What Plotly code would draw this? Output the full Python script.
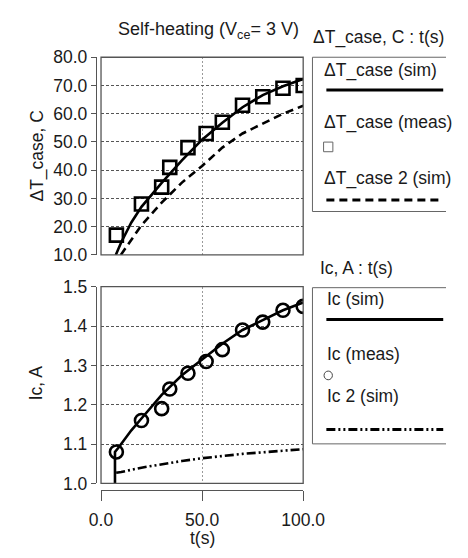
import plotly.graph_objects as go

# ---------------- data ----------------
t_meas = [7.6, 20, 30, 34, 43, 52, 60, 70, 80, 90, 100]
dT_meas = [17, 28, 34, 41, 48, 53, 57, 63, 66, 69, 70]
ic_meas = [1.08, 1.16, 1.19, 1.24, 1.28, 1.31, 1.34, 1.39, 1.41, 1.44, 1.45]

t_dT_sim = [7.3, 10, 15, 20, 30, 40, 50, 60, 70, 80, 90, 100]
dT_sim = [10, 14.5, 21.5, 27.0, 35.5, 43.5, 50.8, 56.8, 62.3, 66.6, 69.7, 72.3]

t_dT2_sim = [9.8, 15, 20, 30, 40, 50, 60, 70, 80, 90, 100]
dT2_sim = [10, 15.5, 20.5, 28.5, 35.6, 41.5, 48.0, 53.0, 56.6, 60.0, 62.8]

t_ic_sim = [6.9, 6.9, 8.5, 15, 20, 30, 40, 50, 60, 70, 80, 90, 100]
ic_sim = [1.0, 1.08, 1.09, 1.135, 1.165, 1.225, 1.275, 1.315, 1.355, 1.39, 1.415, 1.44, 1.46]

t_ic2_sim = [7.5, 10, 20, 30, 40, 50, 60, 70, 80, 90, 100]
ic2_sim = [1.027, 1.029, 1.04, 1.049, 1.057, 1.064, 1.07, 1.075, 1.079, 1.083, 1.087]

x_ticks = [0, 50, 100]
dT_ticks = [10, 20, 30, 40, 50, 60, 70, 80]
ic_ticks = [1.0, 1.1, 1.2, 1.3, 1.4, 1.5]

# ---------------- layout helpers ----------------
W, H = 468, 558
FONT = "Liberation Sans, Arial, sans-serif"
TXT = "#1a1a1a"
FS = 17.5


def px(x):
    return x / W


def py(y):
    return 1 - y / H


X_DOM = [px(96), px(314)]
TOP_DOM = [py(254), py(49)]
BOT_DOM = [py(491), py(287)]

fig = go.Figure()

fig.add_trace(go.Scatter(x=t_dT_sim, y=dT_sim, mode="lines", line=dict(color="black", width=2.6),
                         xaxis="x", yaxis="y", showlegend=False))
fig.add_trace(go.Scatter(x=t_dT2_sim, y=dT2_sim, mode="lines",
                         line=dict(color="black", width=2.6, dash="8px,5px"),
                         xaxis="x", yaxis="y", showlegend=False))
fig.add_trace(go.Scatter(x=t_meas, y=dT_meas, mode="markers",
                         marker=dict(symbol="square-open", size=13, color="black", line=dict(width=2.6)),
                         xaxis="x", yaxis="y", showlegend=False))

fig.add_trace(go.Scatter(x=t_ic_sim, y=ic_sim, mode="lines", line=dict(color="black", width=2.6),
                         xaxis="x2", yaxis="y2", showlegend=False))
fig.add_trace(go.Scatter(x=t_ic2_sim, y=ic2_sim, mode="lines",
                         line=dict(color="black", width=2.6, dash="9px,3px,2px,3px,2px,3px"),
                         xaxis="x2", yaxis="y2", showlegend=False))
fig.add_trace(go.Scatter(x=t_meas, y=ic_meas, mode="markers",
                         marker=dict(symbol="circle-open", size=13, color="black", line=dict(width=2.6)),
                         xaxis="x2", yaxis="y2", showlegend=False))

grid_h = dict(showgrid=True, gridcolor="#555", gridwidth=1, griddash="3px,2px")
grid_v = dict(showgrid=True, gridcolor="#9a9a9a", gridwidth=1, griddash="2px,2px")

fig.update_layout(
    width=W, height=H,
    margin=dict(l=0, r=0, t=0, b=0),
    paper_bgcolor="white", plot_bgcolor="white",
    font=dict(family=FONT, size=FS, color=TXT),
    showlegend=False,
    xaxis=dict(domain=X_DOM, anchor="y", range=[0, 100], tickvals=x_ticks,
               showticklabels=False, ticks="", zeroline=False, showline=False, **grid_v),
    yaxis=dict(domain=TOP_DOM, anchor="free", position=px(90.5), range=[10, 80],
               tickvals=dT_ticks, tickformat=".1f", ticks="outside", ticklen=5,
               tickcolor="#555", tickwidth=1, showline=True, linecolor="#555", linewidth=1.2,
               zeroline=False, tickfont=dict(size=FS, color=TXT), **grid_h),
    xaxis2=dict(domain=X_DOM, anchor="free", position=py(497.5), range=[0, 100],
                tickvals=x_ticks, tickformat=".1f", ticks="outside", ticklen=10,
                ticklabelstandoff=4,
                tickcolor="#555", tickwidth=1.2, showline=True, linecolor="#555", linewidth=1.2,
                zeroline=False, tickfont=dict(size=FS, color=TXT), **grid_v),
    yaxis2=dict(domain=BOT_DOM, anchor="free", position=px(90.5), range=[1.0, 1.5],
                tickvals=ic_ticks, tickformat=".1f", ticks="outside", ticklen=5,
                tickcolor="#555", tickwidth=1, showline=True, linecolor="#555", linewidth=1.2,
                zeroline=False, tickfont=dict(size=FS, color=TXT), **grid_h),
)

shapes = []
# plot frames
for xr, yr in (("x domain", "y domain"), ("x2 domain", "y2 domain")):
    shapes.append(dict(type="rect", xref=xr, yref=yr, x0=0, x1=1, y0=0, y1=1,
                       line=dict(color="#555", width=1.3), layer="above"))


def seg(x0, y0, x1, y1, color="#666", width=1, dash="solid"):
    return dict(type="line", xref="paper", yref="paper", x0=px(x0), x1=px(x1), y0=py(y0), y1=py(y1),
                line=dict(color=color, width=width, dash=dash))


# legend boxes (open on the right, the box runs off the picture)
for y0, y1 in ((49, 209), (288, 450)):
    shapes.append(seg(324, y0, 468, y0))
    shapes.append(seg(324, y1, 468, y1))
    shapes.append(seg(324, y0, 324, y1))

# legend samples
shapes.append(seg(339, 83, 465, 83, "black", 3))
shapes.append(seg(339, 197, 465, 197, "black", 3, "8px,5px"))
shapes.append(seg(339, 321, 465, 321, "black", 3))
shapes.append(seg(339, 435, 465, 435, "black", 3, "9px,3px,2px,3px,2px,3px"))
shapes.append(dict(type="rect", xref="paper", yref="paper", x0=px(336), x1=px(346),
                   y0=py(147), y1=py(137), line=dict(color="#666", width=1)))
shapes.append(dict(type="circle", xref="paper", yref="paper", x0=px(336.5), x1=px(345.5),
                   y0=py(383.5), y1=py(374.5), line=dict(color="#444", width=1)))

fig.update_layout(shapes=shapes)

ann = []


def text(x, y, s, xanchor="left", size=FS, angle=0):
    ann.append(dict(x=px(x), y=py(y), xref="paper", yref="paper", text=s, showarrow=False,
                    xanchor=xanchor, yanchor="middle", textangle=angle,
                    font=dict(family=FONT, size=size, color=TXT)))


text(212, 21, "Self-heating (V<sub>ce</sub>= 3 V)", xanchor="center", size=18)
text(28, 151, "ΔT_case, C", xanchor="center", angle=-90)
text(26, 387, "Ic, A", xanchor="center", angle=-90)
text(205, 548, "t(s)", xanchor="center")

text(322, 29, "ΔT_case, C : t(s)")
text(334, 63, "ΔT_case (sim)")
text(334, 117, "ΔT_case (meas)")
text(334, 175, "ΔT_case 2 (sim)")

text(330, 268, "Ic, A : t(s)")
text(338, 300, "Ic (sim)")
text(338, 357, "Ic (meas)")
text(338, 400, "Ic 2 (sim)")

fig.update_layout(annotations=ann)

fig.write_html("out.html", config={"displayModeBar": False},
               post_script="document.body.style.margin='0';document.body.style.overflow='hidden';")
